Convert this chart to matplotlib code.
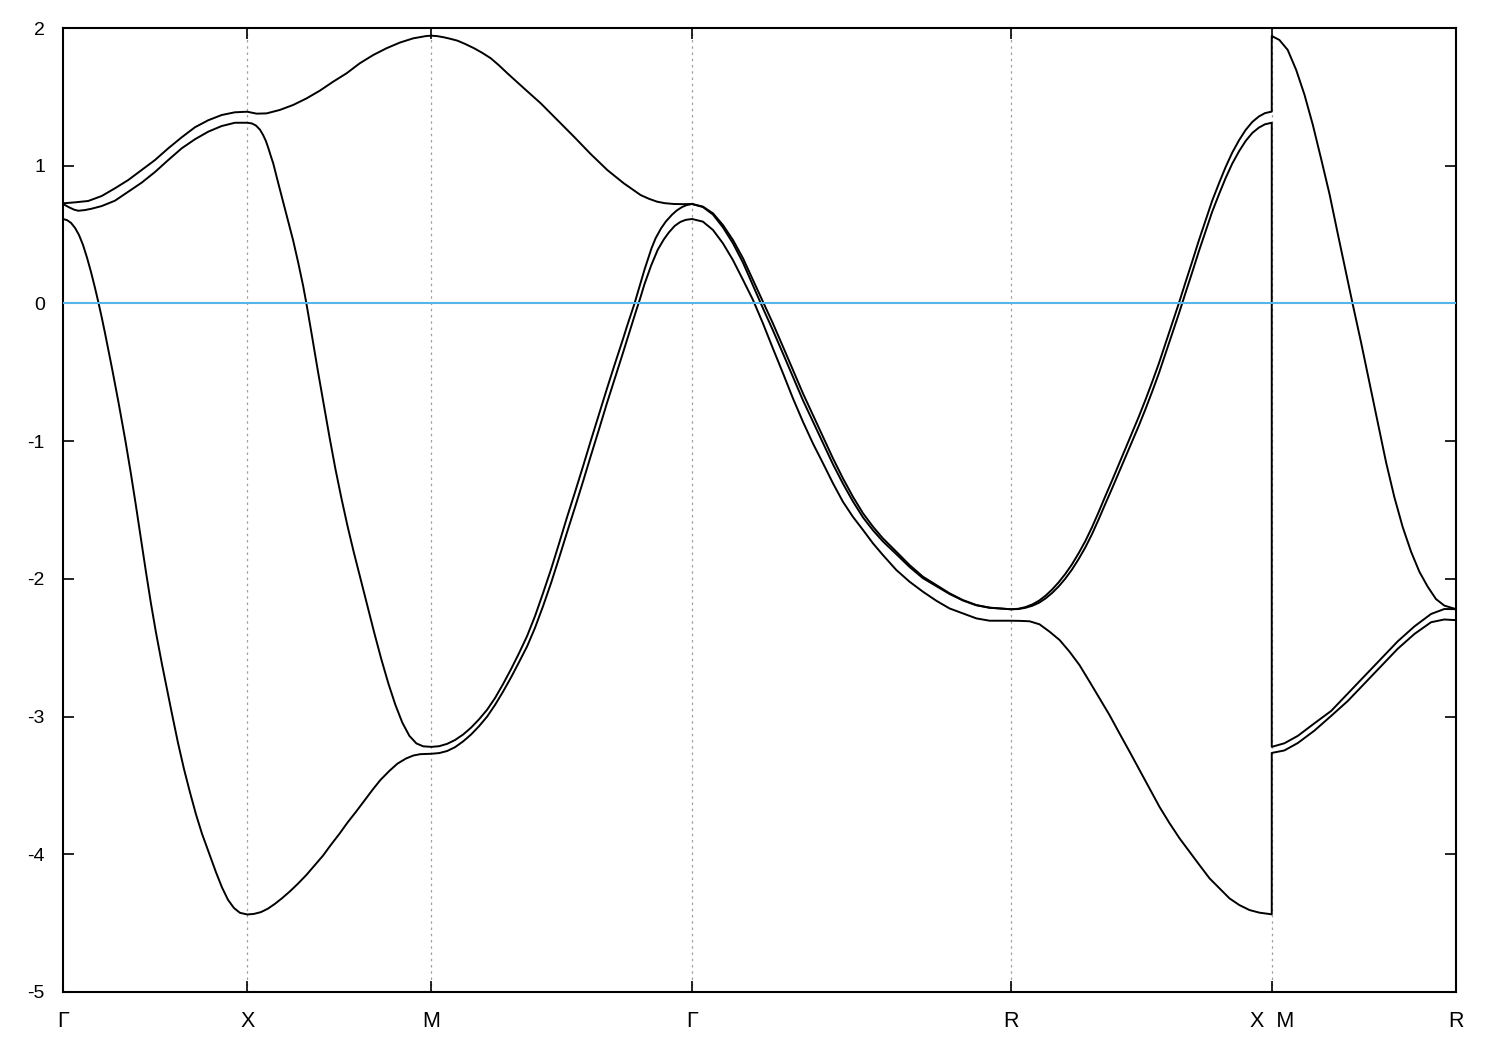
import matplotlib
matplotlib.use("Agg")
import matplotlib.pyplot as plt

plt.rcParams['axes.unicode_minus'] = False

# High-symmetry points along the path (path length units)
sym_pos = [0.0, 1.0, 2.0, 3.4142, 5.1463, 6.5605, 7.5605]
sym_labels = ["Γ", "X", "M", "Γ", "R", "X  M", "R"]

# ---------------- Band 1 (lowest) ----------------
band1_k = [
    # Gamma - X
    0.0, 0.0217, 0.0434, 0.0651, 0.0868, 0.1085, 0.1302, 0.1519, 0.1736, 0.1921, 0.210,
    0.2279, 0.2659, 0.3028, 0.3391, 0.369, 0.396, 0.4232, 0.4503, 0.4775, 0.5046, 0.5372,
    0.5643, 0.5914, 0.624, 0.6565, 0.6891, 0.7217, 0.7542, 0.7949, 0.8302, 0.8627, 0.8953,
    0.9278, 0.9604, 1.0,
    # X - M
    1.036, 1.074, 1.112, 1.150, 1.188, 1.231, 1.274, 1.321, 1.366, 1.411, 1.452, 1.501,
    1.544, 1.591, 1.636, 1.681, 1.723, 1.771, 1.815, 1.861, 1.901, 1.939, 2.0,
    # M - Gamma
    2.042, 2.085, 2.128, 2.172, 2.215, 2.258, 2.302, 2.345, 2.388, 2.432, 2.475, 2.519,
    2.562, 2.605, 2.649, 2.692, 2.735, 2.779, 2.822, 2.865, 2.909, 2.952, 2.995, 3.039,
    3.082, 3.109, 3.131, 3.156, 3.192, 3.228, 3.261, 3.288, 3.320, 3.351, 3.380, 3.4142,
    # Gamma - R
    3.473, 3.528, 3.582, 3.636, 3.691, 3.745, 3.799, 3.853, 3.908, 3.962, 4.016, 4.070,
    4.125, 4.179, 4.233, 4.287, 4.342, 4.396, 4.450, 4.523, 4.595, 4.667, 4.740, 4.812,
    4.884, 4.957, 5.029, 5.1463,
    # R - X
    5.192, 5.246, 5.300, 5.355, 5.409, 5.463, 5.517, 5.572, 5.626, 5.680, 5.734, 5.789,
    5.843, 5.897, 5.951, 6.006, 6.060, 6.114, 6.168, 6.223, 6.277, 6.331, 6.385, 6.440,
    6.494, 6.5605,
    # M - R
    6.5605, 6.629, 6.702, 6.792, 6.883, 6.973, 7.064, 7.154, 7.244, 7.335, 7.425, 7.497, 7.5605,
]
band1_E = [
    0.613, 0.605, 0.585, 0.549, 0.497, 0.425, 0.333, 0.229, 0.113, 0.008, -0.100,
    -0.215, -0.47, -0.73, -1.00, -1.24, -1.47, -1.71, -1.95, -2.18, -2.39, -2.62,
    -2.80, -2.98, -3.19, -3.38, -3.55, -3.71, -3.85, -4.00, -4.13, -4.24, -4.33,
    -4.39, -4.425, -4.437,
    -4.433, -4.42, -4.395, -4.36, -4.32, -4.27, -4.215, -4.15, -4.08, -4.01, -3.935, -3.85,
    -3.77, -3.69, -3.61, -3.53, -3.46, -3.395, -3.342, -3.305, -3.283, -3.273, -3.27,
    -3.265, -3.25, -3.222, -3.18, -3.13, -3.07, -3.00, -2.915, -2.82, -2.715, -2.605, -2.49,
    -2.355, -2.20, -2.03, -1.85, -1.665, -1.48, -1.295, -1.105, -0.915, -0.725, -0.545, -0.36,
    -0.175, -0.06, 0.03, 0.14, 0.275, 0.39, 0.465, 0.515, 0.563, 0.592, 0.607, 0.613,
    0.594, 0.533, 0.436, 0.315, 0.170, 0.025, -0.145, -0.327, -0.508, -0.690, -0.859, -1.016,
    -1.161, -1.306, -1.440, -1.549, -1.645, -1.742, -1.827, -1.936, -2.021, -2.093, -2.159, -2.215,
    -2.251, -2.287, -2.304, -2.304,
    -2.305, -2.308, -2.330, -2.384, -2.444, -2.529, -2.626, -2.747, -2.868, -2.989, -3.122, -3.255,
    -3.388, -3.521, -3.655, -3.775, -3.884, -3.981, -4.078, -4.175, -4.247, -4.320, -4.369, -4.405,
    -4.424, -4.436,
    -3.264, -3.246, -3.192, -3.102, -2.995, -2.887, -2.760, -2.634, -2.508, -2.400, -2.315, -2.295, -2.300,
]

# ---------------- Band 2 (middle) ----------------
band2_k = [
    # Gamma - X
    0.0, 0.033, 0.060, 0.083, 0.119, 0.156, 0.210, 0.282, 0.354, 0.427, 0.499, 0.571,
    0.644, 0.716, 0.788, 0.861, 0.933, 1.0,
    # X - M
    1.025, 1.047, 1.069, 1.086, 1.101, 1.114, 1.128, 1.141, 1.168, 1.195, 1.222, 1.249,
    1.276, 1.303, 1.321, 1.350, 1.382, 1.415, 1.447, 1.479, 1.512, 1.544, 1.577, 1.615,
    1.653, 1.690, 1.728, 1.766, 1.804, 1.842, 1.880, 1.918, 1.955, 2.0,
    # M - Gamma
    2.042, 2.085, 2.128, 2.172, 2.215, 2.258, 2.302, 2.345, 2.388, 2.432, 2.475, 2.519,
    2.562, 2.605, 2.649, 2.692, 2.735, 2.779, 2.822, 2.865, 2.909, 2.952, 2.995, 3.039,
    3.062, 3.102, 3.125, 3.156, 3.194, 3.217, 3.246, 3.272, 3.306, 3.331, 3.360, 3.385, 3.4142,
    # Gamma - R
    3.473, 3.528, 3.582, 3.636, 3.691, 3.745, 3.799, 3.853, 3.908, 3.962, 4.016, 4.070,
    4.125, 4.179, 4.233, 4.287, 4.342, 4.396, 4.450, 4.523, 4.595, 4.667, 4.740, 4.812,
    4.884, 4.957, 5.029, 5.1463,
    # R - X
    5.186, 5.224, 5.262, 5.298, 5.333, 5.368, 5.404, 5.439, 5.476, 5.512, 5.549, 5.585,
    5.621, 5.657, 5.694, 5.730, 5.766, 5.802, 5.839, 5.875, 5.911, 5.948, 5.984, 6.020,
    6.056, 6.092, 6.129, 6.165, 6.202, 6.237, 6.274, 6.310, 6.346, 6.383, 6.419, 6.455,
    6.491, 6.524, 6.5605,
    # M - R
    6.5605, 6.629, 6.702, 6.792, 6.883, 6.973, 7.064, 7.154, 7.244, 7.335, 7.425, 7.497, 7.5605,
]
band2_E = [
    0.722, 0.698, 0.681, 0.673, 0.678, 0.688, 0.707, 0.746, 0.811, 0.877, 0.954, 1.041,
    1.126, 1.192, 1.247, 1.288, 1.312, 1.312,
    1.307, 1.292, 1.262, 1.223, 1.180, 1.130, 1.070, 1.017, 0.875, 0.737, 0.600, 0.458,
    0.300, 0.130, 0.0, -0.225, -0.48, -0.73, -0.975, -1.205, -1.42, -1.615, -1.80, -2.00,
    -2.20, -2.395, -2.585, -2.76, -2.915, -3.045, -3.14, -3.195, -3.216, -3.22,
    -3.215, -3.198, -3.17, -3.13, -3.08, -3.02, -2.95, -2.865, -2.765, -2.655, -2.54, -2.415,
    -2.27, -2.105, -1.93, -1.745, -1.555, -1.37, -1.185, -0.995, -0.805, -0.62, -0.44, -0.26,
    -0.162, 0.0, 0.105, 0.245, 0.40, 0.475, 0.545, 0.595, 0.645, 0.675, 0.700, 0.714, 0.722,
    0.700, 0.645, 0.552, 0.437, 0.295, 0.130, -0.035, -0.195, -0.365, -0.535, -0.703, -0.858,
    -1.014, -1.168, -1.308, -1.437, -1.554, -1.647, -1.728, -1.821, -1.914, -1.995, -2.053, -2.110,
    -2.157, -2.192, -2.210, -2.221,
    -2.219, -2.210, -2.195, -2.173, -2.142, -2.103, -2.055, -2.000, -1.933, -1.857, -1.771, -1.675,
    -1.568, -1.456, -1.343, -1.230, -1.117, -1.004, -0.888, -0.768, -0.642, -0.507, -0.363, -0.220,
    -0.076, 0.075, 0.227, 0.379, 0.526, 0.665, 0.792, 0.910, 1.015, 1.105, 1.180, 1.238,
    1.277, 1.301, 1.312,
    -3.220, -3.194, -3.140, -3.049, -2.959, -2.833, -2.706, -2.580, -2.454, -2.345, -2.255, -2.219, -2.220,
]

# ---------------- Band 3 (upper) ----------------
band3_k = [
    # Gamma - X
    0.0, 0.065, 0.137, 0.210, 0.282, 0.354, 0.427, 0.499, 0.571, 0.644, 0.716, 0.788,
    0.861, 0.933, 1.0,
    # X - M
    1.051, 1.105, 1.177, 1.249, 1.322, 1.394, 1.466, 1.539, 1.611, 1.684, 1.756, 1.828,
    1.901, 1.973, 2.0,
    # M - Gamma
    2.031, 2.069, 2.101, 2.141, 2.183, 2.231, 2.275, 2.322, 2.367, 2.412, 2.502, 2.593,
    2.683, 2.773, 2.864, 2.954, 3.044, 3.135, 3.180, 3.224, 3.266, 3.315, 3.364, 3.4142,
    # Gamma - R
    3.473, 3.528, 3.582, 3.636, 3.691, 3.745, 3.799, 3.853, 3.908, 3.962, 4.016, 4.070,
    4.125, 4.179, 4.233, 4.287, 4.342, 4.396, 4.450, 4.523, 4.595, 4.667, 4.740, 4.812,
    4.884, 4.957, 5.029, 5.1463,
    # R - X
    5.186, 5.224, 5.262, 5.298, 5.333, 5.368, 5.404, 5.439, 5.476, 5.512, 5.549, 5.585,
    5.621, 5.657, 5.694, 5.730, 5.766, 5.802, 5.839, 5.875, 5.911, 5.948, 5.984, 6.020,
    6.056, 6.092, 6.129, 6.165, 6.202, 6.237, 6.274, 6.310, 6.346, 6.383, 6.419, 6.455,
    6.491, 6.524, 6.5605,
    # M - R
    6.5605, 6.602, 6.647, 6.693, 6.738, 6.783, 6.829, 6.874, 6.919, 6.965, 6.999, 7.046,
    7.091, 7.136, 7.181, 7.226, 7.271, 7.317, 7.362, 7.407, 7.452, 7.497, 7.5605,
]
band3_E = [
    0.727, 0.734, 0.744, 0.780, 0.836, 0.896, 0.969, 1.041, 1.126, 1.206, 1.279, 1.330,
    1.368, 1.388, 1.392,
    1.378, 1.380, 1.405, 1.441, 1.489, 1.545, 1.610, 1.671, 1.744, 1.804, 1.853, 1.894,
    1.925, 1.942, 1.944,
    1.941, 1.932, 1.922, 1.908, 1.884, 1.853, 1.820, 1.780, 1.728, 1.671, 1.562, 1.453,
    1.332, 1.211, 1.085, 0.969, 0.872, 0.787, 0.760, 0.739, 0.728, 0.722, 0.721, 0.722,
    0.703, 0.654, 0.569, 0.461, 0.327, 0.170, 0.012, -0.145, -0.315, -0.484, -0.653, -0.810,
    -0.968, -1.125, -1.270, -1.403, -1.524, -1.621, -1.706, -1.803, -1.900, -1.984, -2.045, -2.105,
    -2.154, -2.190, -2.209, -2.221,
    -2.217, -2.205, -2.185, -2.158, -2.122, -2.078, -2.025, -1.966, -1.895, -1.815, -1.725, -1.625,
    -1.515, -1.400, -1.285, -1.170, -1.055, -0.940, -0.822, -0.700, -0.572, -0.435, -0.290, -0.145,
    0.0, 0.152, 0.305, 0.458, 0.605, 0.745, 0.872, 0.990, 1.095, 1.185, 1.260, 1.318,
    1.358, 1.382, 1.393,
    1.942, 1.913, 1.841, 1.696, 1.516, 1.299, 1.047, 0.794, 0.505, 0.216, 0.0, -0.288,
    -0.577, -0.866, -1.154, -1.407, -1.623, -1.804, -1.949, -2.057, -2.147, -2.194, -2.220,
]

y_ticks = [-5, -4, -3, -2, -1, 0, 1, 2]

fig = plt.figure(figsize=(15, 10.5), dpi=100)
ax = fig.add_axes([63 / 1500, 1 - 992 / 1050, (1456 - 63) / 1500, (992 - 28) / 1050])

# dotted vertical lines at interior high-symmetry points
for p in sym_pos[1:-1]:
    ax.axvline(p, color="#a0a0a0", lw=0.9, ls=(0, (2.0, 3.0)), zorder=1)

for k, e in [(band1_k, band1_E), (band2_k, band2_E), (band3_k, band3_E)]:
    ax.plot(k, e, color="black", lw=1.4, zorder=2, solid_joinstyle="round")

ax.axhline(0, color="#56b4e9", lw=1.5, zorder=3)

ax.set_xlim(sym_pos[0], sym_pos[-1])
ax.set_ylim(-5, 2)

ax.set_xticks(sym_pos)
ax.set_xticklabels(sym_labels, family=["Liberation Sans Narrow", "Liberation Sans", "DejaVu Sans"],
                   fontsize=15.5)
ax.set_yticks(y_ticks)
ax.set_yticklabels([str(v) for v in y_ticks], family=["Liberation Sans", "DejaVu Sans"], fontsize=14)

ax.tick_params(axis="both", direction="in", length=8, width=1.2, top=True, right=True)
ax.tick_params(axis="y", pad=13)
ax.tick_params(axis="x", pad=14)

for s in ax.spines.values():
    s.set_linewidth(1.5)

fig.savefig("out.png", dpi=100)
